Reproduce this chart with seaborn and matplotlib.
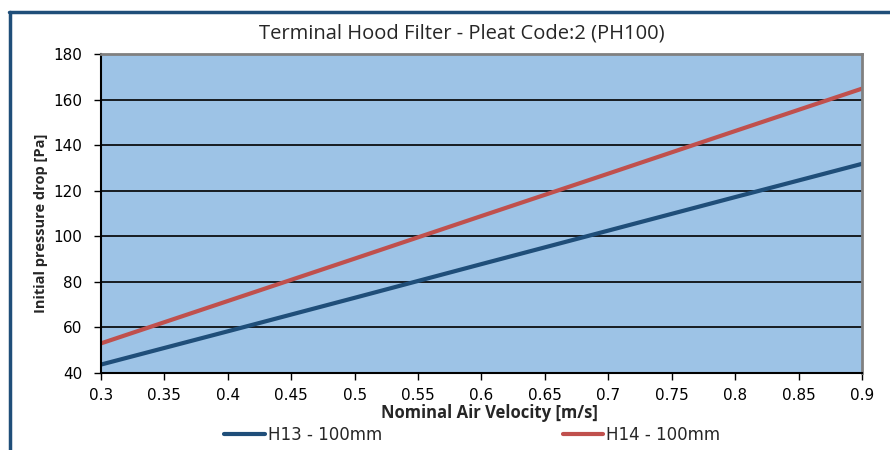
import matplotlib
matplotlib.use("Agg")
import matplotlib.pyplot as plt
import seaborn as sns
import pandas as pd
from matplotlib.lines import Line2D

velocity = [0.3, 0.4, 0.5, 0.6, 0.7, 0.8, 0.9]
h13 = [43.7, 58.3, 73.0, 87.8, 102.5, 117.2, 131.8]
h14 = [53.0, 71.6, 90.2, 108.9, 127.5, 146.2, 164.8]
series_names = ["H13 - 100mm", "H14 - 100mm"]
title = "Terminal Hood Filter - Pleat Code:2 (PH100)"
xlabel = "Nominal Air Velocity [m/s]"
ylabel = "Initial pressure drop [Pa]"
xticks = [0.3, 0.35, 0.4, 0.45, 0.5, 0.55, 0.6, 0.65, 0.7, 0.75, 0.8, 0.85, 0.9]
xtick_labels = ["0.3", "0.35", "0.4", "0.45", "0.5", "0.55", "0.6", "0.65", "0.7", "0.75", "0.8", "0.85", "0.9"]
yticks = [40, 60, 80, 100, 120, 140, 160, 180]

df = pd.DataFrame({
    "velocity": velocity * 2,
    "dp": h13 + h14,
    "series": [series_names[0]] * len(velocity) + [series_names[1]] * len(velocity),
})

sns.set_theme(style="white")
plt.rcParams["font.family"] = ["DejaVu Sans"]

fig = plt.figure(figsize=(8.9, 4.5), dpi=100)
fig.patch.set_facecolor("white")
ax = fig.add_axes([101 / 890, 1 - 373 / 450, (862 - 101) / 890, (373 - 54) / 450])

palette = {series_names[0]: "#1F4E79", series_names[1]: "#C0504D"}
sns.lineplot(data=df, x="velocity", y="dp", hue="series", palette=palette,
             linewidth=3.0, ax=ax, legend=False)

ax.set_facecolor("#9DC3E6")
ax.set_xlim(0.3, 0.9)
ax.set_ylim(40, 180)
ax.set_xticks(xticks)
ax.set_xticklabels(xtick_labels)
ax.set_yticks(yticks)
ax.yaxis.grid(True, color="black", linewidth=1.2)
ax.xaxis.grid(False)
ax.set_axisbelow(True)
ax.tick_params(axis="both", direction="out", length=5, width=1, color="black",
               labelsize=11, labelcolor="black", bottom=True, left=True)
ax.tick_params(axis="x", pad=5.5)
ax.tick_params(axis="y", pad=8.5)
for s in ["left", "bottom"]:
    ax.spines[s].set_color("black")
    ax.spines[s].set_linewidth(1.5)
for s in ["top", "right"]:
    ax.spines[s].set_color("#808080")
    ax.spines[s].set_linewidth(2.0)

ax.set_xlabel(xlabel, fontsize=12, fontweight="bold", family=["Open Sans", "DejaVu Sans"], labelpad=1)
ax.set_ylabel(ylabel, fontsize=10.5, fontweight="bold", family=["Open Sans", "DejaVu Sans"], labelpad=4)
ax.xaxis.label.set_x((489 - 101) / 761)
ax.yaxis.label.set_y((373 - 223) / 319)
fig.text(462 / 890, 1 - 33 / 450, title, ha="center", va="center", fontsize=14.5,
         family=["Open Sans", "DejaVu Sans"])

handles = [Line2D([0], [0], color=palette[n], linewidth=3.0) for n in series_names]
fig.legend(handles, series_names, loc="center", bbox_to_anchor=(472.5 / 890, 1 - 435 / 450),
           ncol=2, frameon=False, fontsize=12, handlelength=2.45, handletextpad=0.18,
           columnspacing=10.8, borderpad=0, borderaxespad=0)

# outer chart frame (dark blue), partially visible
fig.add_artist(Line2D([9.5 / 890, 9.5 / 890], [0, 1 - 12 / 450], transform=fig.transFigure,
                      color="#1F4E79", linewidth=2.5))
fig.add_artist(Line2D([8.5 / 890, 1], [1 - 12 / 450, 1 - 12 / 450], transform=fig.transFigure,
                      color="#1F4E79", linewidth=2.5))

fig.savefig("out.png", dpi=100)
